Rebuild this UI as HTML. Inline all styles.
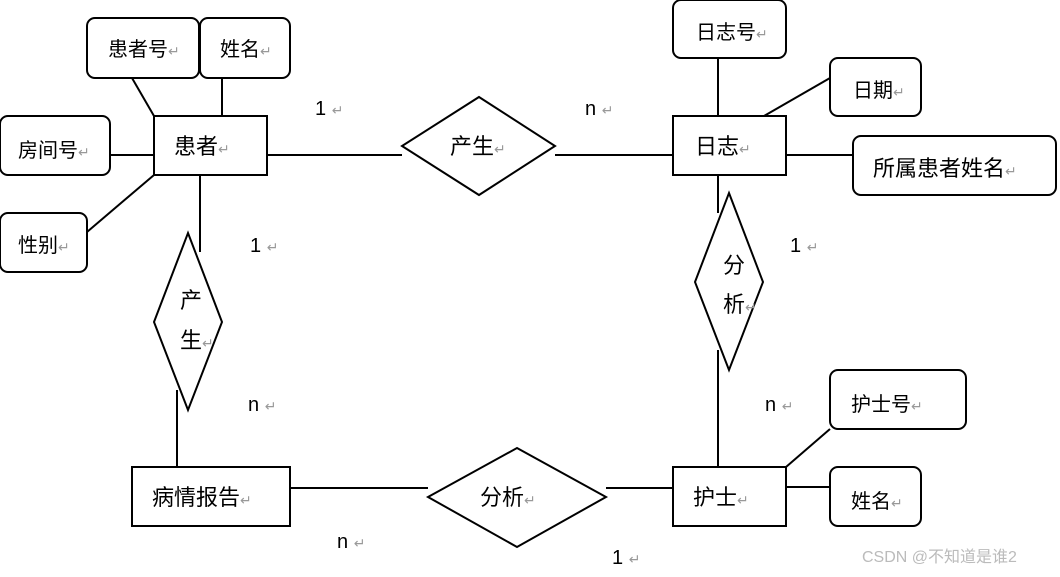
<!DOCTYPE html>
<html><head><meta charset="utf-8"><style>
html,body{margin:0;padding:0;background:#fff;}
svg text{font-family:"Liberation Sans","Noto Sans CJK SC",sans-serif;fill:#000;}
.r{fill:#999;font-size:14px;}
</style></head><body>
<svg width="1060" height="572" viewBox="0 0 1060 572" xmlns="http://www.w3.org/2000/svg">
<g stroke="#000" stroke-width="2" fill="none">
<!-- lines -->
<line x1="132" y1="78" x2="154" y2="116"/>
<line x1="222" y1="78" x2="222" y2="116"/>
<line x1="110" y1="155" x2="154" y2="155"/>
<line x1="87" y1="232" x2="154" y2="175"/>
<line x1="200" y1="175" x2="200" y2="252"/>
<line x1="267" y1="155" x2="402" y2="155"/>
<line x1="555" y1="155" x2="673" y2="155"/>
<line x1="718" y1="58" x2="718" y2="116"/>
<line x1="830" y1="78" x2="764" y2="116"/>
<line x1="786" y1="155" x2="853" y2="155"/>
<line x1="718" y1="175" x2="718" y2="213"/>
<line x1="718" y1="350" x2="718" y2="467"/>
<line x1="830" y1="429" x2="786" y2="467"/>
<line x1="786" y1="487" x2="830" y2="487"/>
<line x1="177" y1="390" x2="177" y2="467"/>
<line x1="290" y1="488" x2="428" y2="488"/>
<line x1="606" y1="488" x2="673" y2="488"/>
<!-- attribute boxes -->
<rect x="87" y="18" width="112" height="60" rx="8"/>
<rect x="200" y="18" width="90" height="60" rx="8"/>
<rect x="0" y="116" width="110" height="59" rx="8"/>
<rect x="0" y="213" width="87" height="59" rx="8"/>
<rect x="673" y="0" width="113" height="58" rx="8"/>
<rect x="830" y="58" width="91" height="58" rx="8"/>
<rect x="853" y="136" width="203" height="59" rx="8"/>
<rect x="830" y="370" width="136" height="59" rx="8"/>
<rect x="830" y="467" width="91" height="59" rx="8"/>
<!-- entities -->
<rect x="154" y="116" width="113" height="59"/>
<rect x="673" y="116" width="113" height="59"/>
<rect x="673" y="467" width="113" height="59"/>
<rect x="132" y="467" width="158" height="59"/>
<!-- diamonds -->
<polygon points="479,97 555,146 479,195 402,146" fill="#fff"/>
<polygon points="729,193 763,282 729,370 695,282" fill="#fff"/>
<polygon points="188,233 222,322 188,410 154,322" fill="#fff"/>
<polygon points="517,448 606,497 517,547 428,497" fill="#fff"/>
</g>
<g font-size="20">
<text x="108" y="56">患者号<tspan class="r">↵</tspan></text>
<text x="220" y="56">姓名<tspan class="r">↵</tspan></text>
<text x="18" y="157">房间号<tspan class="r">↵</tspan></text>
<text x="18" y="252">性别<tspan class="r">↵</tspan></text>
<text x="174" y="154" font-size="22">患者<tspan class="r">↵</tspan></text>
<text x="450" y="154" font-size="22">产生<tspan class="r">↵</tspan></text>
<text x="696" y="39">日志号<tspan class="r">↵</tspan></text>
<text x="853" y="97">日期<tspan class="r">↵</tspan></text>
<text x="695" y="154" font-size="22">日志<tspan class="r">↵</tspan></text>
<text x="873" y="176" font-size="22">所属患者姓名<tspan class="r">↵</tspan></text>
<text x="723" y="273" font-size="22">分</text>
<text x="723" y="312" font-size="22">析<tspan class="r">↵</tspan></text>
<text x="180" y="308" font-size="22">产</text>
<text x="180" y="348" font-size="22">生<tspan class="r">↵</tspan></text>
<text x="152" y="505" font-size="22">病情报告<tspan class="r">↵</tspan></text>
<text x="480" y="505" font-size="22">分析<tspan class="r">↵</tspan></text>
<text x="693" y="505" font-size="22">护士<tspan class="r">↵</tspan></text>
<text x="851" y="411">护士号<tspan class="r">↵</tspan></text>
<text x="851" y="508">姓名<tspan class="r">↵</tspan></text>
<text x="315" y="115">1 <tspan class="r">↵</tspan></text>
<text x="585" y="115">n <tspan class="r">↵</tspan></text>
<text x="250" y="252">1 <tspan class="r">↵</tspan></text>
<text x="790" y="252">1 <tspan class="r">↵</tspan></text>
<text x="248" y="411">n <tspan class="r">↵</tspan></text>
<text x="765" y="411">n <tspan class="r">↵</tspan></text>
<text x="337" y="548">n <tspan class="r">↵</tspan></text>
<text x="612" y="564">1 <tspan class="r">↵</tspan></text>
</g>
<text x="862" y="562" font-size="16" style="fill:#bbb">CSDN @不知道是谁2</text>
</svg>
</body></html>
